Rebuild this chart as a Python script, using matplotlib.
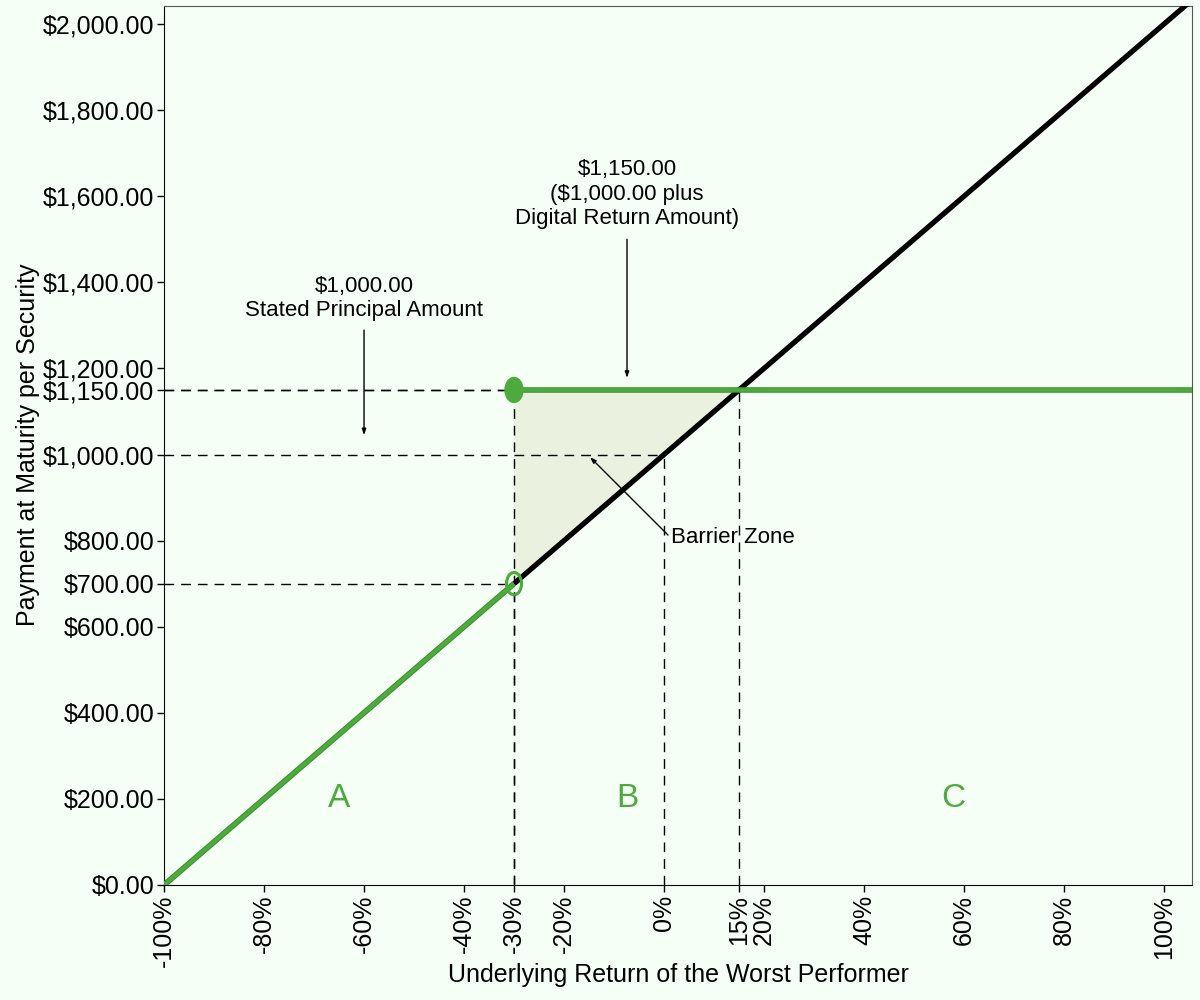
import matplotlib.pyplot as plt
from matplotlib.patches import Ellipse

# ===============================================================================
#       DATA
# ===============================================================================
# Underlying return [%] and payment [$]
lower_ret = [-100, -30]
lower_pay = [0, 700]
upper_ret = [-30, 105]
upper_pay = [700, 2050]
digital_ret = [-30, 105.6]
digital_pay = [1150, 1150]

# Barrier zone triangle
zone_ret = [-30, -30, 15]
zone_pay = [700, 1150, 1150]

# Dashed guide lines: (return, payment)
guides = [(-30, 1150), (0, 1000), (-30, 700), (15, 1150)]

Y_TICKS = [0, 200, 400, 600, 700, 800, 1000, 1150, 1200, 1400, 1600, 1800, 2000]
X_TICKS = [-100, -80, -60, -40, -30, -20, 0, 15, 20, 40, 60, 80, 100]

# ===============================================================================
#       PLOT CONFIGURATIONS
# ===============================================================================
BG_COLOR = "#F5FFF5"
GREEN = "#4DAA3C"
GREEN_DARK = "#3E8E30"
FILL_COLOR = "#EBF1DF"
TICK_SIZE = 18
NOTE_SIZE = 16
plt.rcParams["font.family"] = ["Liberation Sans", "DejaVu Sans"]

fig = plt.figure(figsize=(12, 10), dpi=100, facecolor=BG_COLOR)
ax = fig.add_axes([0.1367, 0.115, 0.8566, 0.879])
ax.set_facecolor(BG_COLOR)

# Shaded barrier zone
ax.fill(zone_ret, zone_pay, color=FILL_COLOR, zorder=1)

# Dashed guides
for r, p in guides:
    ax.plot([-100, r], [p, p], color="black", lw=1, ls=(0, (7, 5)), zorder=2)
    ax.plot([r, r], [0, p], color="black", lw=1, ls=(0, (7, 5)), zorder=2)

# Payoff lines
ax.plot(upper_ret, upper_pay, color="black", lw=3.8, solid_capstyle="butt", zorder=3)
ax.plot(lower_ret, lower_pay, color=GREEN_DARK, lw=4.2, solid_capstyle="butt", zorder=4)
ax.plot(lower_ret, lower_pay, color=GREEN, lw=2.8, solid_capstyle="butt", zorder=4)
ax.plot(digital_ret, digital_pay, color=GREEN_DARK, lw=4.0, solid_capstyle="butt", zorder=4)
ax.plot(digital_ret, digital_pay, color=GREEN, lw=2.6, solid_capstyle="butt", zorder=4)

# End markers
ax.add_patch(Ellipse((-30, 1150), 3.6, 58, facecolor=GREEN, edgecolor=GREEN, zorder=5))
ax.add_patch(Ellipse((-30, 700), 3.0, 52, facecolor="none", edgecolor=GREEN, lw=2.2, zorder=5))

# Annotations
ARROW = dict(arrowstyle="-|>,head_length=0.35,head_width=0.12", color="black", lw=1,
             shrinkA=0, shrinkB=0)
ax.text(-7.4, 1605, "$1,150.00\n($1,000.00 plus\nDigital Return Amount)",
        ha="center", va="center", fontsize=NOTE_SIZE, linespacing=1.2)
ax.annotate("", xy=(-7.4, 1178), xytext=(-7.4, 1500), arrowprops=ARROW)

ax.text(-60, 1362, "$1,000.00\nStated Principal Amount",
        ha="center", va="center", fontsize=NOTE_SIZE, linespacing=1.2)
ax.annotate("", xy=(-60, 1045), xytext=(-60, 1289), arrowprops=ARROW)

ax.text(1.4, 808, "Barrier Zone", ha="left", va="center", fontsize=NOTE_SIZE)
ax.annotate("", xy=(-14.8, 994), xytext=(0.8, 813), arrowprops=ARROW)

for letter, r in zip(["A", "B", "C"], [-65, -7.4, 57.8]):
    ax.text(r, 200, letter, color=GREEN, fontsize=24, ha="center", va="center")

# Axes
ax.set_xlim(-100, 105.6)
ax.set_ylim(0, 2042)
ax.set_yticks(Y_TICKS)
ax.set_yticklabels(["${:,.2f}".format(v) for v in Y_TICKS], fontsize=TICK_SIZE)
ax.set_xticks(X_TICKS)
ax.set_xticklabels(["{}%".format(v) for v in X_TICKS], fontsize=TICK_SIZE, rotation=90)
ax.tick_params(direction="out", length=5, width=1, pad=2)

fig.text(0.565, 0.025, "Underlying Return of the Worst Performer", fontsize=TICK_SIZE,
         ha="center", va="center")
fig.text(0.023, 0.555, "Payment at Maturity per Security", fontsize=TICK_SIZE,
         ha="center", va="center", rotation=90)

ax.spines["top"].set_color("#555555")
ax.spines["right"].set_color("#555555")

fig.savefig("out.png", dpi=100, facecolor=BG_COLOR)
